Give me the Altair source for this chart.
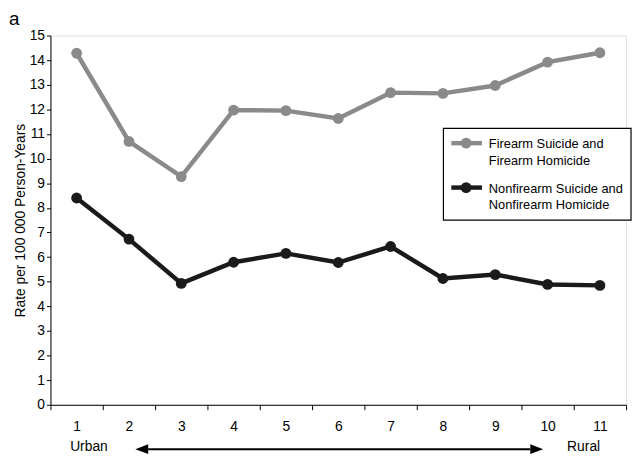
import altair as alt
import pandas as pd

FONT = "Liberation Sans"

categories = [1, 2, 3, 4, 5, 6, 7, 8, 9, 10, 11]
firearm = [14.28, 10.7, 9.27, 11.97, 11.95, 11.63, 12.68, 12.65, 12.97, 13.92, 14.3]
nonfirearm = [8.4, 6.73, 4.93, 5.79, 6.15, 5.78, 6.43, 5.13, 5.29, 4.89, 4.85]

series_names = ["Firearm Suicide and Firearm Homicide",
                "Nonfirearm Suicide and Nonfirearm Homicide"]
legend_lines = [["Firearm Suicide and", "Firearm Homicide"],
                ["Nonfirearm Suicide and", "Nonfirearm Homicide"]]
series_colors = ["#8a8a8a", "#1a1a1a"]
y_ticks = list(range(0, 16))
end_labels = ["Urban", "Rural"]
panel_label = "a"
y_title = "Rate per 100 000 Person-Years"

rows = []
for name, vals in zip(series_names, [firearm, nonfirearm]):
    for c, v in zip(categories, vals):
        rows.append({"series": name, "cat": c, "value": v})
df = pd.DataFrame(rows)
one = pd.DataFrame({"k": [0]})

x_enc = alt.X(
    "cat:O",
    bandPosition=0.5,
    scale=alt.Scale(type="band", paddingInner=0, paddingOuter=0),
    axis=alt.Axis(title=None, labelAngle=0, tickBand="extent", tickSize=5,
                  labelPadding=10, labelFontSize=14, labelFont=FONT,
                  labelColor="black", domainColor="black", tickColor="black",
                  domainWidth=1, tickWidth=1, grid=False),
)
y_enc = alt.Y(
    "value:Q",
    scale=alt.Scale(domain=[0, 15], nice=False, zero=True),
    axis=alt.Axis(values=y_ticks, title=y_title, titleFontSize=14,
                  titleFontWeight="normal", titleFont=FONT, titleColor="black",
                  titlePadding=2, tickSize=4, labelPadding=2, labelFontSize=14,
                  labelFont=FONT, labelColor="black", domainColor="black",
                  tickColor="black", grid=False, format="d"),
)
color_enc = alt.Color("series:N",
                      scale=alt.Scale(domain=series_names, range=series_colors),
                      legend=None)

base = alt.Chart(df)
lines = base.mark_line(strokeWidth=4.5).encode(x=x_enc, y=y_enc, color=color_enc)
points = base.mark_point(filled=True, size=120, opacity=1).encode(
    x=x_enc, y=y_enc, color=color_enc)

layers = [lines, points]

# legend box
layers.append(alt.Chart(one).mark_rect(fill="white", stroke="black", strokeWidth=1.2).encode(
    x=alt.value(398), x2=alt.value(588), y=alt.value(94), y2=alt.value(187)))
sym_y = [109, 154]
txt_y = [114, 159]
for i in range(2):
    layers.append(alt.Chart(one).mark_rule(strokeWidth=4.5, color=series_colors[i]).encode(
        x=alt.value(406), x2=alt.value(437), y=alt.value(sym_y[i])))
    layers.append(alt.Chart(one).mark_point(filled=True, size=120, opacity=1,
                                            color=series_colors[i]).encode(
        x=alt.value(421), y=alt.value(sym_y[i])))
    layers.append(alt.Chart(one).mark_text(text=legend_lines[i], align="left",
                                           baseline="alphabetic", fontSize=13,
                                           lineHeight=17, font=FONT, color="black").encode(
        x=alt.value(444), y=alt.value(txt_y[i])))

# Urban / Rural and arrow
layers.append(alt.Chart(one).mark_text(text=end_labels[0], fontSize=14, font=FONT,
                                       align="center", baseline="middle", color="black").encode(
    x=alt.value(39), y=alt.value(417)))
layers.append(alt.Chart(one).mark_text(text=end_labels[1], fontSize=14, font=FONT,
                                       align="center", baseline="middle", color="black").encode(
    x=alt.value(540), y=alt.value(417)))
layers.append(alt.Chart(one).mark_rule(strokeWidth=2, color="black").encode(
    x=alt.value(99), x2=alt.value(486), y=alt.value(419)))
layers.append(alt.Chart(one).mark_point(shape="M-1,0L0,-0.38L0,0.38Z", size=676, filled=True,
                                        opacity=1, color="black").encode(
    x=alt.value(99), y=alt.value(419)))
layers.append(alt.Chart(one).mark_point(shape="M1,0L0,-0.38L0,0.38Z", size=676, filled=True,
                                        opacity=1, color="black").encode(
    x=alt.value(486), y=alt.value(419)))

# panel label
layers.append(alt.Chart(one).mark_text(text=panel_label, fontSize=19, font=FONT,
                                       align="left", baseline="alphabetic", color="black").encode(
    x=alt.value(-42), y=alt.value(-11)))

chart = alt.layer(*layers).properties(
    width=583, height=374, autosize="none",
    padding={"left": 43, "top": 25, "right": 6, "bottom": 50},
).configure_view(stroke=None).configure(font=FONT)

chart.save("out.html", embed_options={"renderer": "svg", "actions": False})
